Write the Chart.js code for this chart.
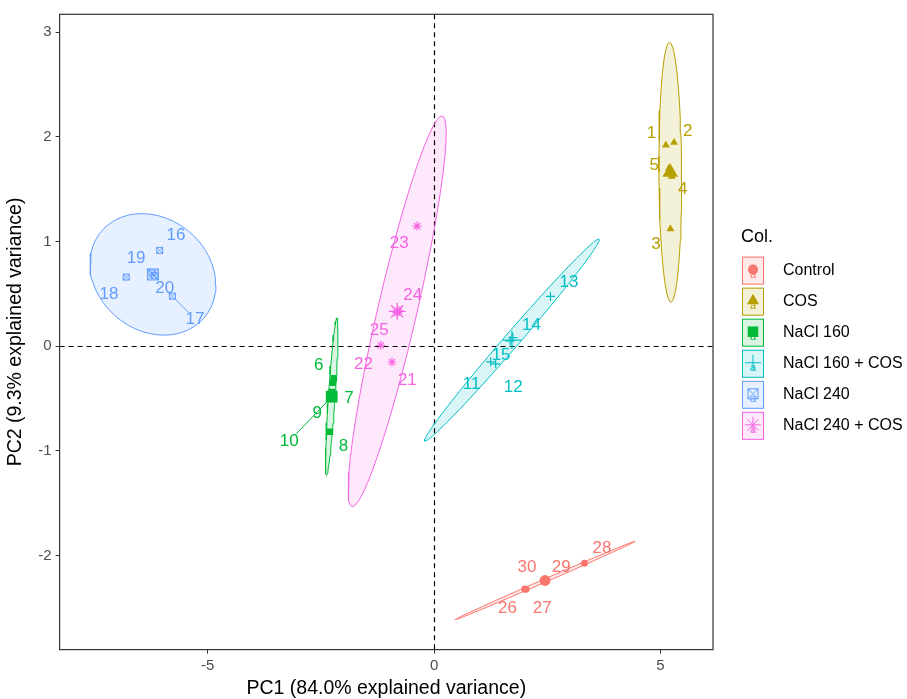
<!DOCTYPE html>
<html>
<head>
<meta charset="utf-8">
<script src="https://cdn.jsdelivr.net/npm/chart.js@4.4.1/dist/chart.umd.min.js"></script>
<style>
  html, body { margin: 0; padding: 0; background: #fff; }
</style>
</head>
<body>
<canvas id="pca" width="907" height="699"></canvas>
<script>
// groups and their sample numbers
const groups = ['Control', 'COS', 'NaCl 160', 'NaCl 160 + COS', 'NaCl 240', 'NaCl 240 + COS'];
const colors = ['#F8766D', '#B79F00', '#00BA38', '#00BFC4', '#619CFF', '#F564E3'];
const sampleIds = [
  [26, 27, 28, 29, 30],
  [1, 2, 3, 4, 5],
  [6, 7, 8, 9, 10],
  [11, 12, 13, 14, 15],
  [16, 17, 18, 19, 20],
  [21, 22, 23, 24, 25]
];
// individual scores
const pc1 = [
  [2.03, 2.45, 3.32, 2.45, 2.00],
  [5.12, 5.30, 5.22, 5.25, 5.19],
  [-2.215, -2.235, -2.30, -2.255, -2.295],
  [1.68, 1.36, 2.57, 1.74, 1.25],
  [-6.06, -5.78, -6.80, -6.23, -6.18],
  [-0.93, -0.82, -0.375, -0.775, -1.175]
];
const pc2 = [
  [-2.324, -2.244, -2.076, -2.236, -2.320],
  [1.92, 1.945, 1.12, 1.62, 1.70],
  [-0.309, -0.35, -0.819, -0.44, -0.50],
  [0.05, -0.17, 0.474, 0.081, -0.15],
  [0.915, 0.477, 0.66, 0.70, 0.673],
  [-0.152, 0.32, 1.147, 0.337, 0.008]
];
// where the (repelled) text labels ended up
const labelPc1 = [
  [1.62, 2.39, 3.71, 2.81, 2.05],
  [4.80, 5.60, 4.90, 5.49, 4.86],
  [-2.545, -1.88, -2.0, -2.58, -3.20],
  [0.83, 1.75, 2.98, 2.15, 1.48],
  [-5.70, -5.28, -7.18, -6.58, -5.95],
  [-0.59, -1.56, -0.77, -0.47, -1.21]
];
const labelPc2 = [
  [-2.506, -2.506, -1.93, -2.11, -2.11],
  [2.03, 2.055, 0.975, 1.50, 1.73],
  [-0.187, -0.50, -0.953, -0.647, -0.91],
  [-0.366, -0.39, 0.613, 0.196, -0.09],
  [1.06, 0.26, 0.495, 0.837, 0.548],
  [-0.33, -0.17, 0.98, 0.485, 0.153]
];
const segmentIds = [17, 10];
const xTicks = [-5, 0, 5];
const yTicks = [-2, -1, 0, 1, 2, 3];
const xRange = [-8.27, 6.16];
const yRange = [-2.90, 3.17];
const ellipseLevel = 0.95;

const FONT = "'Liberation Sans', Arial, sans-serif";

// box with an X (ggplot shape 7)
function boxX(size, color) {
  const cv = document.createElement('canvas');
  cv.width = size + 2; cv.height = size + 2;
  const c = cv.getContext('2d');
  c.strokeStyle = color; c.lineWidth = 1;
  c.strokeRect(1.5, 1.5, size - 1, size - 1);
  c.beginPath();
  c.moveTo(1.5, 1.5); c.lineTo(size + 0.5, size + 0.5);
  c.moveTo(size + 0.5, 1.5); c.lineTo(1.5, size + 0.5);
  c.stroke();
  return cv;
}

const pointStyles = ['circle', 'triangle', 'rect', 'cross', boxX(7, colors[4]), 'star'];
const meanStyles = ['circle', 'triangle', 'rect', 'cross', boxX(12, colors[4]), 'star'];
const pointRadius = [3.5, 4.6, 4.7, 4.5, 4, 4.5];
const meanRadius = [5.4, 9, 8.3, 9, 7, 8.5];
const strokeOnly = [false, false, false, true, true, true];

function mean(a) { return a.reduce((s, v) => s + v, 0) / a.length; }

// stat_ellipse(type = "norm")
function normEllipse(xs, ys, level, segs) {
  const n = xs.length, mx = mean(xs), my = mean(ys);
  let sxx = 0, syy = 0, sxy = 0;
  for (let i = 0; i < n; i++) {
    sxx += (xs[i] - mx) ** 2;
    syy += (ys[i] - my) ** 2;
    sxy += (xs[i] - mx) * (ys[i] - my);
  }
  sxx /= n - 1; syy /= n - 1; sxy /= n - 1;
  const dfd = n - 1;
  const fq = (dfd / 2) * (Math.pow(1 - level, -2 / dfd) - 1); // qf(level, 2, dfd)
  const r = Math.sqrt(2 * fq);
  const a = Math.sqrt(sxx), b = sxy / a, c = Math.sqrt(syy - b * b);
  const pts = [];
  for (let i = 0; i <= segs; i++) {
    const t = 2 * Math.PI * i / segs;
    pts.push({ x: mx + r * Math.cos(t) * a, y: my + r * (Math.cos(t) * b + Math.sin(t) * c) });
  }
  return pts;
}

function alpha(hex, a) {
  const v = parseInt(hex.slice(1), 16);
  return `rgba(${v >> 16},${(v >> 8) & 255},${v & 255},${a})`;
}

const datasets = [];
groups.forEach((g, gi) => {
  datasets.push({
    label: g + ' ellipse', kind: 'ellipse', group: gi,
    data: normEllipse(pc1[gi], pc2[gi], ellipseLevel, 51),
    showLine: true, pointRadius: 0, borderColor: colors[gi], borderWidth: 1,
    backgroundColor: alpha(colors[gi], 0.15), order: 3, tension: 0
  });
});
groups.forEach((g, gi) => {
  datasets.push({
    label: g, kind: 'points', group: gi,
    data: pc1[gi].map((x, i) => ({ x: x, y: pc2[gi][i] })),
    pointStyle: pointStyles[gi], pointRadius: pointRadius[gi],
    backgroundColor: strokeOnly[gi] ? 'rgba(0,0,0,0)' : colors[gi],
    borderColor: colors[gi], borderWidth: strokeOnly[gi] ? 1.2 : 0, order: 2
  });
});
groups.forEach((g, gi) => {
  datasets.push({
    label: g + ' mean', kind: 'mean', group: gi,
    data: [{ x: mean(pc1[gi]), y: mean(pc2[gi]) }],
    pointStyle: meanStyles[gi], pointRadius: meanRadius[gi],
    backgroundColor: strokeOnly[gi] ? 'rgba(0,0,0,0)' : colors[gi],
    borderColor: colors[gi], borderWidth: strokeOnly[gi] ? 1.3 : 0, order: 1
  });
});

const backdrop = {
  id: 'backdrop',
  beforeDatasetsDraw(chart) {
    const ctx = chart.ctx, a = chart.chartArea;
    ctx.save();
    ctx.beginPath(); ctx.rect(a.left, a.top, a.right - a.left, a.bottom - a.top); ctx.clip();
    chart.data.datasets.forEach((ds, i) => {
      if (ds.kind !== 'ellipse') return;
      const pts = chart.getDatasetMeta(i).data;
      ctx.beginPath();
      pts.forEach((p, k) => k ? ctx.lineTo(p.x, p.y) : ctx.moveTo(p.x, p.y));
      ctx.closePath();
      ctx.fillStyle = ds.backgroundColor;
      ctx.fill();
    });
    const x0 = Math.round(chart.scales.x.getPixelForValue(0)) + 0.5;
    const y0 = Math.round(chart.scales.y.getPixelForValue(0)) + 0.5;
    ctx.strokeStyle = '#000'; ctx.lineWidth = 1.2; ctx.setLineDash([5, 4]);
    ctx.beginPath();
    ctx.moveTo(a.left, y0); ctx.lineTo(a.right, y0);
    ctx.moveTo(x0, a.top); ctx.lineTo(x0, a.bottom);
    ctx.stroke();
    ctx.restore();
  }
};

const textLabels = {
  id: 'textLabels',
  afterDatasetsDraw(chart) {
    const ctx = chart.ctx, sx = chart.scales.x, sy = chart.scales.y;
    ctx.save();
    ctx.font = `17px ${FONT}`;
    ctx.textAlign = 'center'; ctx.textBaseline = 'middle';
    groups.forEach((g, gi) => {
      sampleIds[gi].forEach((id, i) => {
        const lx = sx.getPixelForValue(labelPc1[gi][i]), ly = sy.getPixelForValue(labelPc2[gi][i]);
        if (segmentIds.includes(id)) {
          const px = sx.getPixelForValue(pc1[gi][i]), py = sy.getPixelForValue(pc2[gi][i]);
          const d = Math.hypot(lx - px, ly - py);
          ctx.strokeStyle = colors[gi]; ctx.lineWidth = 1;
          ctx.beginPath();
          ctx.moveTo(px + (lx - px) * 4 / d, py + (ly - py) * 4 / d);
          ctx.lineTo(lx - (lx - px) * 9 / d, ly - (ly - py) * 9 / d);
          ctx.stroke();
        }
        ctx.fillStyle = colors[gi];
        ctx.fillText(String(id), lx, ly);
      });
    });
    ctx.restore();
  }
};

const frameAndLegend = {
  id: 'frameAndLegend',
  afterDraw(chart) {
    const ctx = chart.ctx, a = chart.chartArea;
    ctx.save();
    ctx.strokeStyle = '#333'; ctx.lineWidth = 1.2;
    ctx.strokeRect(a.left, a.top, a.right - a.left, a.bottom - a.top);

    ctx.fillStyle = '#000';
    ctx.font = `18px ${FONT}`;
    ctx.textAlign = 'left'; ctx.textBaseline = 'middle';
    ctx.fillText('Col.', 741, 237);
    const keyX = 742, keyW = 22, keyH = 28;
    const legendRadius = [5, 7, 7.5, 8, 6, 8];
    groups.forEach((g, gi) => {
      const cy = 270.6 + gi * 31.05;
      ctx.fillStyle = alpha(colors[gi], 0.15);
      ctx.fillRect(keyX, cy - keyH / 2, keyW, keyH);
      ctx.strokeStyle = colors[gi]; ctx.lineWidth = 1;
      ctx.strokeRect(keyX + 0.5, cy - keyH / 2 + 0.5, keyW - 1, keyH - 1);
      // "a" from the text layer
      ctx.fillStyle = colors[gi];
      ctx.font = `11px ${FONT}`;
      ctx.textAlign = 'center';
      ctx.fillText('a', keyX + keyW / 2, cy + 4);
      // point glyph
      ctx.fillStyle = colors[gi]; ctx.strokeStyle = colors[gi];
      const st = gi === 4 ? boxX(11, colors[4]) : pointStyles[gi];
      Chart.helpers.drawPoint(ctx, {
        pointStyle: st, radius: legendRadius[gi], rotation: 0,
        borderWidth: strokeOnly[gi] ? 1.2 : 0
      }, keyX + keyW / 2, cy - 1);
      ctx.fillStyle = '#000';
      ctx.font = `16px ${FONT}`;
      ctx.textAlign = 'left';
      ctx.fillText(g, 783, cy);
    });
    ctx.restore();
  }
};

new Chart(document.getElementById('pca'), {
  type: 'scatter',
  data: { datasets: datasets },
  options: {
    responsive: false,
    animation: false,
    devicePixelRatio: 1,
    layout: { padding: { top: 14.3, right: 194, left: 0, bottom: 0 } },
    plugins: { legend: { display: false }, tooltip: { enabled: false } },
    scales: {
      x: {
        type: 'linear', min: xRange[0], max: xRange[1],
        afterBuildTicks: s => { s.ticks = xTicks.map(v => ({ value: v })); },
        afterFit: s => { s.height = 49.4; },
        grid: { drawOnChartArea: false, drawTicks: true, tickLength: 4, color: '#333' },
        border: { display: false },
        ticks: { color: '#4D4D4D', font: { family: FONT, size: 15 }, padding: 3, maxRotation: 0 },
        title: {
          display: true, text: 'PC1 (84.0% explained variance)', color: '#000',
          font: { family: FONT, size: 19.5, lineHeight: 1 }, padding: { top: 0, bottom: 1 }
        }
      },
      y: {
        type: 'linear', min: yRange[0], max: yRange[1],
        afterBuildTicks: s => { s.ticks = yTicks.map(v => ({ value: v })); },
        afterFit: s => { s.width = 59.6; },
        grid: { drawOnChartArea: false, drawTicks: true, tickLength: 4, color: '#333' },
        border: { display: false },
        ticks: { color: '#4D4D4D', font: { family: FONT, size: 15 }, padding: 4 },
        title: {
          display: true, text: 'PC2 (9.3% explained variance)', color: '#000',
          font: { family: FONT, size: 19.5, lineHeight: 1 }, padding: { top: 6, bottom: 0 }
        }
      }
    }
  },
  plugins: [backdrop, textLabels, frameAndLegend]
});
</script>
</body>
</html>
